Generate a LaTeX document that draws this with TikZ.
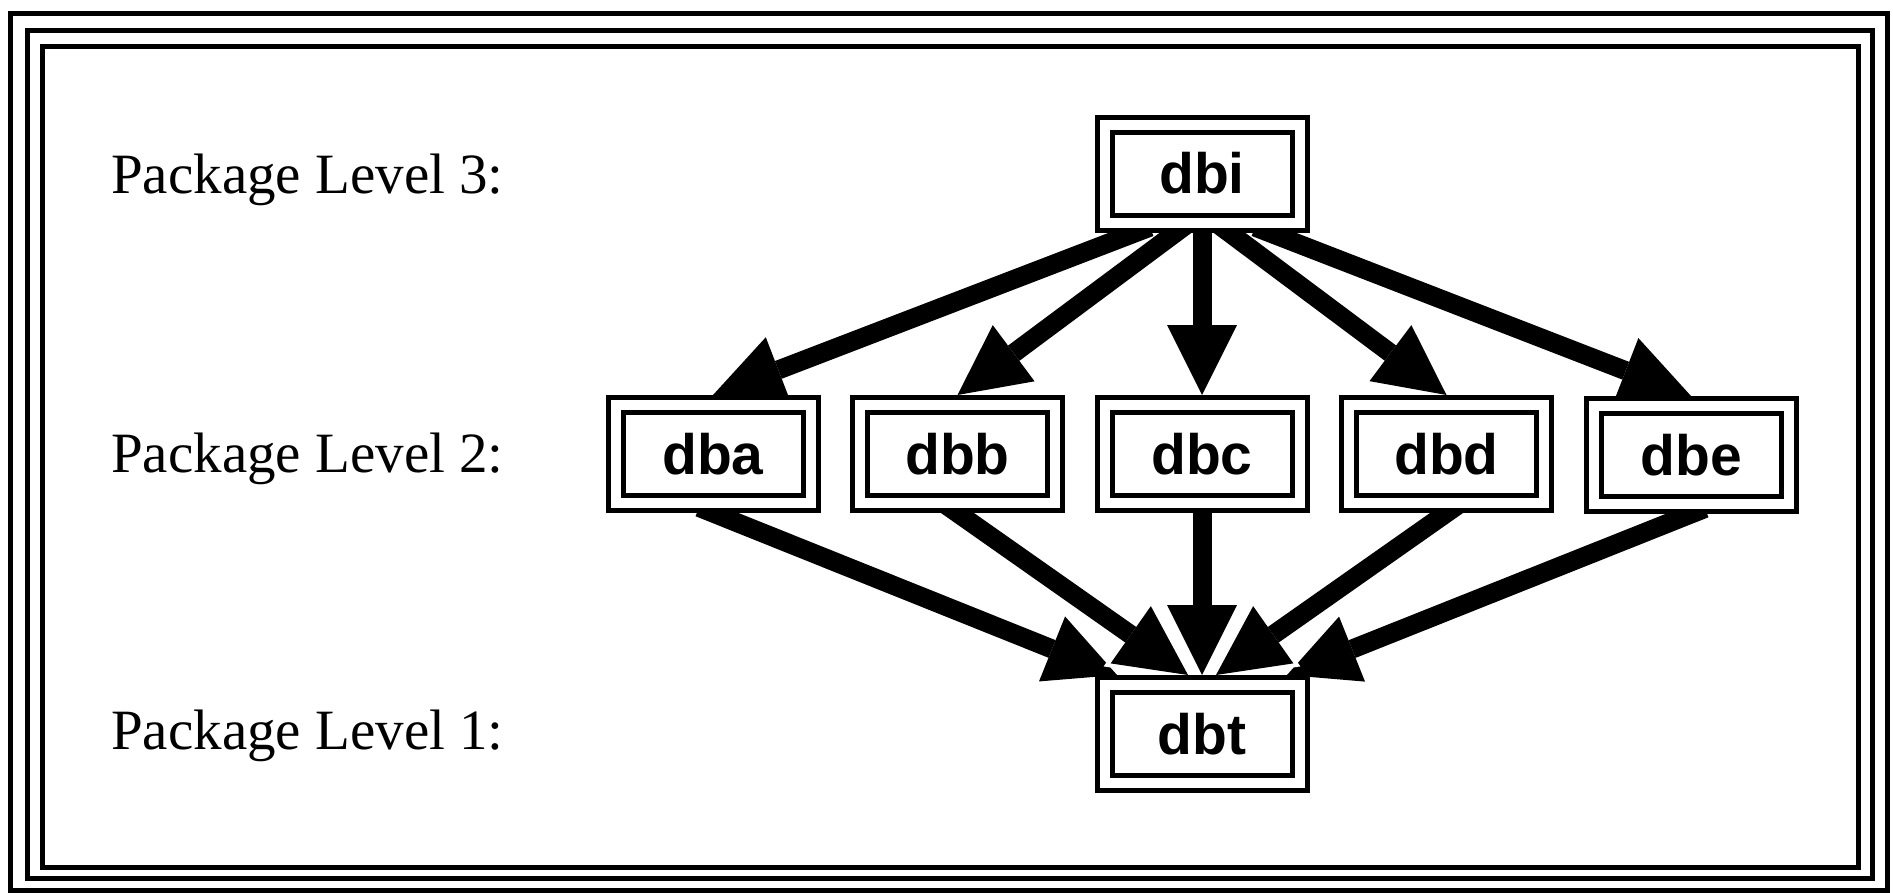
\documentclass[tikz,border=0pt]{standalone}
\usepackage{fontspec}
\setmainfont{Liberation Serif}
\newfontfamily\boxfont{Liberation Sans}
\usetikzlibrary{arrows.meta,calc}
\pgfdeclarelayer{paper}
\pgfdeclarelayer{bg}
\pgfsetlayers{paper,bg,main}
\newcommand\linkarrow[2]{%
  \draw[halo] ($(#1)!-15pt!(#2)$) -- ($(#2)!-9pt!(#1)$);
  \draw[arr] ($(#1)!-15pt!(#2)$) -- (#2);}
\begin{document}
\begin{tikzpicture}[x=1pt,y=-1pt,
  box/.style={draw=black, line width=5pt, double=white, double distance=10pt,
    fill=white, minimum width=195pt, minimum height=98pt, inner sep=0pt,
    outer sep=10pt, font=\boxfont\bfseries\fontsize{57}{60}\selectfont},
  lbl/.style={anchor=base west, inner sep=0pt, font=\fontsize{57}{60}\selectfont},
  frame/.style={draw=black, line width=5pt},
  arr/.style={draw=black, line width=19pt, -{Triangle[length=70pt,width=70pt,line width=0pt]}},
  halo/.style={draw=white, line width=19pt, -{Triangle[length=83pt,width=83pt,line width=0pt]}}]
\useasboundingbox (0,0) rectangle (1893,892);
\begin{pgfonlayer}{paper}
\fill[white] (0,0) rectangle (1893,892);
\end{pgfonlayer}
% frame
\draw[frame] (10,13) rectangle (1887,890);
\draw[frame] (27,30) rectangle (1872,878);
\draw[frame] (42,46) rectangle (1858,867);
% labels
\node[lbl] (l3) at (111,193) {Package Level 3:};
\node[lbl] (l2) at (111,472) {Package Level 2:};
\node[lbl] (l1) at (111,749) {Package Level 1:};
% boxes
\node[box] (dbi) at (1202,173.5) {dbi};
\node[box] (dba) at (713,454) {dba};
\node[box] (dbb) at (957.5,454) {dbb};
\node[box] (dbc) at (1202,454) {dbc};
\node[box] (dbd) at (1446.5,454) {dbd};
\node[box] (dbe) at (1691,455) {dbe};
\node[box] (dbt) at (1202,734) {dbt};
% connector ends
\coordinate (s3a) at ([xshift=-66pt]dbi.south);
\coordinate (s3b) at ([xshift=-26pt]dbi.south);
\coordinate (s3c) at (dbi.south);
\coordinate (s3d) at ([xshift=27pt]dbi.south);
\coordinate (s3e) at ([xshift=67pt]dbi.south);
\coordinate (t1a) at ([xshift=-85pt]dbt.north);
\coordinate (t1b) at ([xshift=-14pt]dbt.north);
\coordinate (t1c) at (dbt.north);
\coordinate (t1d) at ([xshift=14pt]dbt.north);
\coordinate (t1e) at ([xshift=85pt]dbt.north);
\begin{pgfonlayer}{bg}
\linkarrow{s3a}{dba.north}
\linkarrow{s3b}{dbb.north}
\linkarrow{s3c}{dbc.north}
\linkarrow{s3d}{dbd.north}
\linkarrow{s3e}{dbe.north}
\linkarrow{dba.south}{t1a}
\linkarrow{dbe.south}{t1e}
\linkarrow{dbb.south}{t1b}
\linkarrow{dbd.south}{t1d}
\linkarrow{dbc.south}{t1c}
\end{pgfonlayer}
\end{tikzpicture}
\end{document}
